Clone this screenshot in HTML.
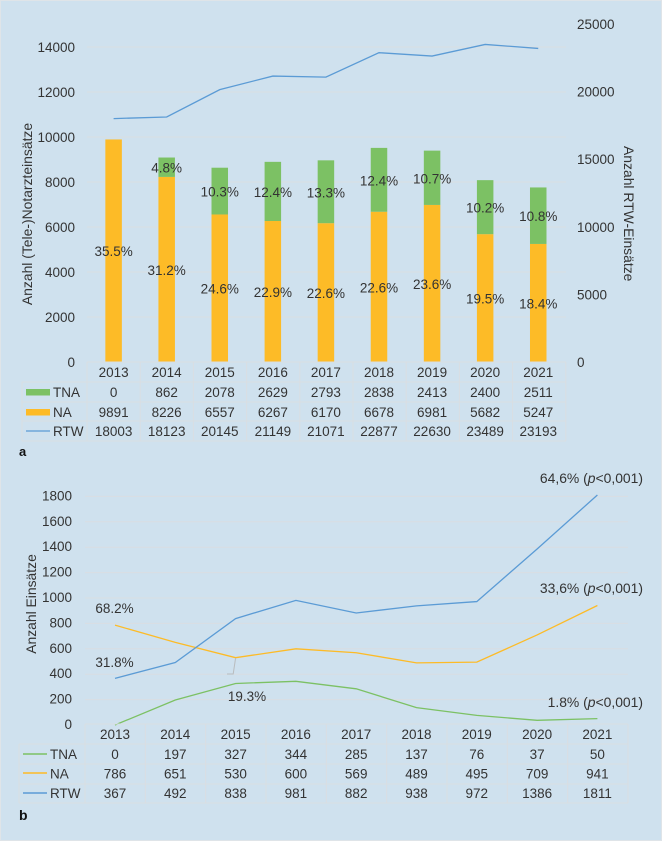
<!DOCTYPE html>
<html lang="de">
<head>
<meta charset="utf-8">
<title>Einsätze</title>
<style>
html,body{margin:0;padding:0;background:#cfe1ee;}
svg{display:block;font-family:"Liberation Sans",Arial,sans-serif;}
text{fill:#333;font-size:13.5px;}
text.title{font-size:13.9px;}
</style>
</head>
<body>
<svg id="c" width="662" height="841" viewBox="0 0 662 841" xmlns="http://www.w3.org/2000/svg">
<rect width="662" height="841" fill="#cfe1ee"/>
<rect x="0.5" y="0.5" width="661" height="840" fill="none" stroke="#dfe4e8" stroke-width="1"/>
<g id="a-grid"></g>
<g id="a-bars"></g>
<g id="a-line"></g>
<g id="a-ticks"></g>
<g id="a-labels"></g>
<g id="a-table"></g>
<text class="title" transform="translate(32,214) rotate(-90)" text-anchor="middle">Anzahl (Tele-)Notarzteinsätze</text>
<text class="title" transform="translate(624,213.7) rotate(90)" text-anchor="middle">Anzahl RTW-Einsätze</text>
<text x="19" y="456" style="font-weight:bold;fill:#111;font-size:13px">a</text>
<g id="b-grid"></g>
<g id="b-lines"></g>
<g id="b-ticks"></g>
<g id="b-table"></g>
<text class="title" transform="translate(36,604) rotate(-90)" text-anchor="middle">Anzahl Einsätze</text>
<text x="19" y="820" style="font-weight:bold;fill:#111;font-size:14px">b</text>
<text x="114.5" y="667" text-anchor="middle">31.8%</text>
<text x="114.5" y="613" text-anchor="middle">68.2%</text>
<text x="247" y="701" text-anchor="middle">19.3%</text>
<polyline points="235.6,658 233.2,674 227,674" fill="none" stroke="#b9bcbe" stroke-width="1"/>
<text class="title" x="643" y="483" text-anchor="end">64,6% (<tspan font-style="italic">p</tspan>&lt;0,001)</text>
<text class="title" x="643" y="593" text-anchor="end">33,6% (<tspan font-style="italic">p</tspan>&lt;0,001)</text>
<text class="title" x="643" y="707" text-anchor="end">1.8% (<tspan font-style="italic">p</tspan>&lt;0,001)</text>
</svg>
<script>
const years = [2013, 2014, 2015, 2016, 2017, 2018, 2019, 2020, 2021];
const aTna = [0, 862, 2078, 2629, 2793, 2838, 2413, 2400, 2511];
const aNa = [9891, 8226, 6557, 6267, 6170, 6678, 6981, 5682, 5247];
const aRtw = [18003, 18123, 20145, 21149, 21071, 22877, 22630, 23489, 23193];
const aNaPct = ['35.5%', '31.2%', '24.6%', '22.9%', '22.6%', '22.6%', '23.6%', '19.5%', '18.4%'];
const aTnaPct = ['', '4.8%', '10.3%', '12.4%', '13.3%', '12.4%', '10.7%', '10.2%', '10.8%'];
const aLeftTicks = [0, 2000, 4000, 6000, 8000, 10000, 12000, 14000];
const aRightTicks = [0, 5000, 10000, 15000, 20000, 25000];
const bTna = [0, 197, 327, 344, 285, 137, 76, 37, 50];
const bNa = [786, 651, 530, 600, 569, 489, 495, 709, 941];
const bRtw = [367, 492, 838, 981, 882, 938, 972, 1386, 1811];
const bTicks = [0, 200, 400, 600, 800, 1000, 1200, 1400, 1600, 1800];

const NS = 'http://www.w3.org/2000/svg';
const GRID = '#d9dee2';
const TNA_C = '#7cc164', NA_C = '#fdbb27', RTW_C = '#5b9bd5';
function mk(parent, tag, attrs, txt) {
  const el = document.createElementNS(NS, tag);
  for (const k in attrs) el.setAttribute(k, attrs[k]);
  if (txt !== undefined) el.textContent = txt;
  document.getElementById(parent).appendChild(el);
  return el;
}
const ax = i => 113.6 + i * 53.08;
const ayL = v => 362 - v * 0.0225;
const ayR = v => 362 - v * 0.01352;
const bx = i => 115 + i * 60.3;
const by = v => 725 - v * 0.127;

aLeftTicks.forEach(t => {
  if (t > 0) {
    const g = mk('a-grid', 'line', {x1: 87, x2: 566, y1: ayL(t), y2: ayL(t), stroke: GRID, 'stroke-width': 1});
    
    
  }
  const l = mk('a-ticks', 'text', {x: 75, y: ayL(t) + 5, 'text-anchor': 'end'}, t);
  
  
});
aRightTicks.forEach(t => {
  const l = mk('a-ticks', 'text', {x: 577, y: ayR(t) + 5}, t);
  
  
});
years.forEach((y, i) => {
  const n = mk('a-bars', 'rect', {x: ax(i) - 8.25, width: 16.5, y: ayL(aNa[i]), height: ayL(0) - ayL(aNa[i]), fill: NA_C});
  
  
  const t = mk('a-bars', 'rect', {x: ax(i) - 8.25, width: 16.5, y: ayL(aNa[i] + aTna[i]), height: ayL(aNa[i]) - ayL(aNa[i] + aTna[i]), fill: TNA_C});
  
  
  const nl = mk('a-labels', 'text', {x: ax(i), y: ayL(aNa[i] / 2) + 5.5, 'text-anchor': 'middle'}, aNaPct[i]);
  
  
  if (aTnaPct[i]) {
    const tl = mk('a-labels', 'text', {x: ax(i), y: ayL(aNa[i] + aTna[i] / 2) + 5.5, 'text-anchor': 'middle'}, aTnaPct[i]);
    
    
  }
});
const aPath = mk('a-line', 'polyline', {points: aRtw.map((v, i) => ax(i) + ',' + ayR(v)).join(' '), fill: 'none', stroke: RTW_C, 'stroke-width': 1.3});



function hline(g, x1, x2, y) {
  const l = mk(g, 'line', {x1: x1, x2: x2, y1: y, y2: y, stroke: GRID, 'stroke-width': 1});
  
  
}
function vline(g, x, y1, y2) {
  const l = mk(g, 'line', {x1: x, x2: x, y1: y1, y2: y2, stroke: GRID, 'stroke-width': 1});
  
  
}
// panel a table
[362, 382, 402, 421, 441].forEach((y, i) => hline('a-table', i === 0 ? 87 : 22, 566, y));
for (let i = 0; i <= 9; i++) vline('a-table', 87 + i * 53.2, 362, 441);
vline('a-table', 22, 382, 441);
const aRows = [[aTna, 397], [aNa, 417], [aRtw, 436]];
years.forEach((y, i) => {
  const h = mk('a-table', 'text', {x: ax(i), y: 377, 'text-anchor': 'middle'}, y);
  
  
  aRows.forEach(r => {
    const c = mk('a-table', 'text', {x: ax(i), y: r[1], 'text-anchor': 'middle'}, r[0][i]);
    
    
  });
});
const s1 = mk('a-table', 'rect', {x: 26, y: 389, width: 24, height: 6.5, fill: TNA_C});


const s2 = mk('a-table', 'rect', {x: 26, y: 409, width: 24, height: 6.5, fill: NA_C});


const s3 = mk('a-table', 'line', {x1: 26, x2: 50, y1: 431, y2: 431, stroke: RTW_C, 'stroke-width': 1.3});


[['TNA', 397], ['NA', 417], ['RTW', 436]].forEach(r => {
  const t = mk('a-table', 'text', {x: 53, y: r[1]}, r[0]);
  
  
});

// panel b
bTicks.forEach(t => {
  if (t > 0) {
    const g = mk('b-grid', 'line', {x1: 85, x2: 628, y1: by(t), y2: by(t), stroke: GRID, 'stroke-width': 1});
    
    
  }
  const l = mk('b-ticks', 'text', {x: 72, y: by(t) + 4, 'text-anchor': 'end'}, t);
  
  
});
[[bTna, TNA_C, 'line-tna'], [bNa, NA_C, 'line-na'], [bRtw, RTW_C, 'line-rtw']].forEach(s => {
  const p = mk('b-lines', 'polyline', {points: s[0].map((v, i) => bx(i) + ',' + by(v)).join(' '), fill: 'none', stroke: s[1], 'stroke-width': 1.3});
  
  
});
[724, 744, 764, 784, 803].forEach((y, i) => hline('b-table', i === 0 ? 85 : 19, 628, y));
for (let i = 0; i <= 9; i++) vline('b-table', 85 + i * 60.33, 724, 803);
vline('b-table', 19, 744, 803);
const bRows = [[bTna, 759], [bNa, 778.5], [bRtw, 798]];
years.forEach((y, i) => {
  const h = mk('b-table', 'text', {x: bx(i), y: 739, 'text-anchor': 'middle'}, y);
  
  
  bRows.forEach(r => {
    const c = mk('b-table', 'text', {x: bx(i), y: r[1], 'text-anchor': 'middle'}, r[0][i]);
    
    
  });
});
[['TNA', 759, 754, TNA_C], ['NA', 778.5, 773, NA_C], ['RTW', 798, 793, RTW_C]].forEach(r => {
  const k = mk('b-table', 'line', {x1: 23, x2: 47, y1: r[2], y2: r[2], stroke: r[3], 'stroke-width': 1.4});
  
  
  const t = mk('b-table', 'text', {x: 50, y: r[1]}, r[0]);
  
  
});
</script>
</body>
</html>
